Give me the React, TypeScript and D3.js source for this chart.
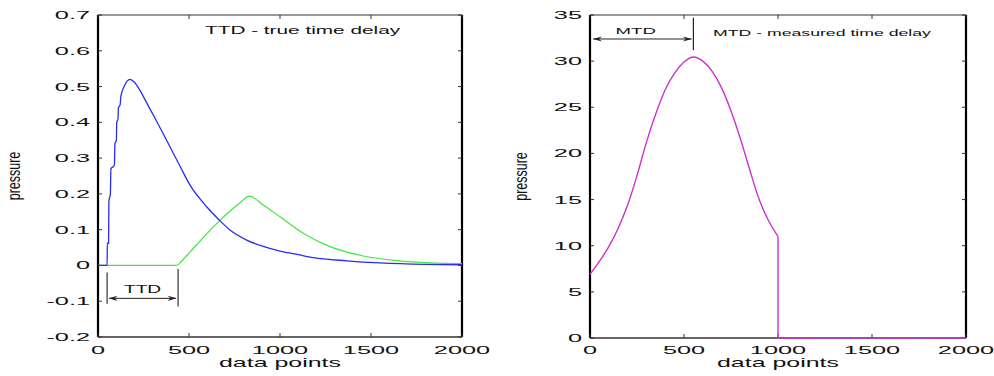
import React from 'react';
import * as d3 from 'd3';

const W = 994;
const H = 376;

// x axis shared by both panels
const xTicks = [0, 500, 1000, 1500, 2000];
const xTickLabels = ['0', '500', '1000', '1500', '2000'];

// left panel: pressure of the input pulse (blue) and delayed response (green)
const leftYTicks = [-0.2, -0.1, 0, 0.1, 0.2, 0.3, 0.4, 0.5, 0.6, 0.7];
const leftYTickLabels = ['-0.2', '-0.1', '0', '0.1', '0.2', '0.3', '0.4', '0.5', '0.6', '0.7'];

const blueX = [0, 50, 51, 58, 60, 68, 71, 90, 93, 101, 103, 110, 112, 122, 125, 135, 148, 160, 176, 200, 230, 267, 320, 377, 450, 505, 597, 666, 725, 817, 908, 1000, 1100, 1183, 1366, 1549, 1800, 2000];
const blueY = [0, 0, 0.062, 0.062, 0.18, 0.2, 0.27, 0.28, 0.34, 0.35, 0.4, 0.41, 0.44, 0.45, 0.47, 0.49, 0.505, 0.515, 0.52, 0.512, 0.49, 0.455, 0.405, 0.35, 0.278, 0.225, 0.164, 0.127, 0.099, 0.071, 0.053, 0.04, 0.03, 0.022, 0.013, 0.007, 0.003, 0.002];

const greenX = [0, 425, 440, 450, 505, 560, 634, 666, 725, 780, 831, 908, 1000, 1128, 1275, 1458, 1641, 1824, 2000];
const greenY = [0, 0, 0.002, 0.007, 0.037, 0.068, 0.108, 0.124, 0.152, 0.175, 0.194, 0.169, 0.136, 0.09, 0.0525, 0.0265, 0.0134, 0.007, 0.005];

// right panel: measured pressure (magenta), smooth pulse then cut to zero at 1000
const rightYTicks = [0, 5, 10, 15, 20, 25, 30, 35];
const rightYTickLabels = ['0', '5', '10', '15', '20', '25', '30', '35'];

const magentaX = [0, 50, 100, 150, 200, 250, 300, 350, 400, 450, 500, 550, 600, 650, 700, 750, 800, 850, 900, 950, 1000];
const magentaY = [6.9, 8.3, 9.9, 11.9, 14.4, 17.6, 21.2, 24.3, 26.9, 28.7, 29.9, 30.45, 30.0, 28.9, 27.1, 24.6, 21.6, 18.2, 15.0, 12.7, 11.0];
const magentaTailX = [1000, 1000, 2000];
const magentaTailY = [11.0, 0, 0];

// annotation extents (in data units)
const ttdFrom = 50;
const ttdTo = 440;
const mtdFrom = 0;
const mtdTo = 550;

const FONT = "'Liberation Sans', Arial, Helvetica, sans-serif";

type STextProps = {
  x: number;
  y: number;
  sx: number;
  size: number;
  anchor?: 'start' | 'middle' | 'end';
  rotate?: boolean;
  children: React.ReactNode;
};

function SText({ x, y, sx, size, anchor = 'start', rotate = false, children }: STextProps) {
  return (
    <text
      transform={`translate(${x},${y}) scale(${sx},1)${rotate ? ' rotate(-90)' : ''}`}
      textAnchor={anchor}
      fontSize={size}
      fontFamily={FONT}
      fill="#111"
    >
      {children}
    </text>
  );
}

type Scale = d3.ScaleLinear<number, number>;

type PanelProps = {
  left: number;
  right: number;
  top: number;
  bottom: number;
  yDomain: [number, number];
  yTicks: number[];
  yTickLabels: string[];
  yLabelX: number;
  children: (x: Scale, y: Scale) => React.ReactNode;
};

function Panel({ left, right, top, bottom, yDomain, yTicks, yTickLabels, yLabelX, children }: PanelProps) {
  const x = d3.scaleLinear().domain([0, 2000]).range([left, right]);
  const y = d3.scaleLinear().domain(yDomain).range([bottom, top]);
  const tl = 4;
  return (
    <g>
      {/* frame */}
      <line x1={left} x2={right} y1={top} y2={top} stroke="#333" strokeWidth={1} />
      <line x1={left} x2={right} y1={bottom} y2={bottom} stroke="#333" strokeWidth={1.5} />
      <line x1={left} x2={left} y1={top} y2={bottom} stroke="#000" strokeWidth={2.2} />
      <line x1={right} x2={right} y1={top} y2={bottom} stroke="#000" strokeWidth={2.2} />
      {/* y ticks */}
      {yTicks.map((t, i) => (
        <g key={`y${i}`}>
          <line x1={left} x2={left + tl} y1={y(t)} y2={y(t)} stroke="#333" strokeWidth={1} />
          <line x1={right - tl} x2={right} y1={y(t)} y2={y(t)} stroke="#333" strokeWidth={1} />
          <SText x={left - 8} y={y(t) + 4} sx={2.3} size={11} anchor="end">
            {yTickLabels[i]}
          </SText>
        </g>
      ))}
      {/* x ticks */}
      {xTicks.map((t, i) => (
        <g key={`x${i}`}>
          <line x1={x(t)} x2={x(t)} y1={bottom} y2={bottom - tl} stroke="#333" strokeWidth={1} />
          <line x1={x(t)} x2={x(t)} y1={top} y2={top + tl} stroke="#333" strokeWidth={1} />
          <SText x={x(t)} y={354} sx={2.3} size={11} anchor="middle">
            {xTickLabels[i]}
          </SText>
        </g>
      ))}
      <SText x={(left + right) / 2} y={367} sx={1.92} size={13} anchor="middle">
        data points
      </SText>
      <SText x={yLabelX} y={(top + bottom) / 2} sx={1.4} size={12.5} anchor="middle" rotate>
        pressure
      </SText>
      {children(x, y)}
    </g>
  );
}

function series(xs: number[], ys: number[]): [number, number][] {
  return xs.map((v, i) => [v, ys[i]] as [number, number]);
}

function arrowHead(px: number, py: number, dir: 1 | -1) {
  // dir = 1 points left (tip at px), dir = -1 points right
  const L = 9;
  const w = 2.6;
  return `M${px},${py} L${px + dir * L},${py - w} L${px + dir * (L - 3)},${py} L${px + dir * L},${py + w} Z`;
}

export default function App() {
  return (
    <svg
      width={W}
      height={H}
      viewBox={`0 0 ${W} ${H}`}
      style={{ position: 'absolute', left: 0, top: 0, background: '#fff' }}
    >
      <rect x={0} y={0} width={W} height={H} fill="#fff" />
      <Panel
        left={98}
        right={462}
        top={15}
        bottom={337}
        yDomain={[-0.2, 0.7]}
        yTicks={leftYTicks}
        yTickLabels={leftYTickLabels}
        yLabelX={20}
      >
        {(x, y) => {
          const line = d3
            .line<[number, number]>()
            .x((d) => x(d[0]))
            .y((d) => y(d[1]))
            .curve(d3.curveMonotoneX);
          const a = x(ttdFrom);
          const b = x(ttdTo);
          const ay = y(-0.092);
          return (
            <g>
              <path d={line(series(greenX, greenY)) || ''} fill="none" stroke="#3ee83e" strokeWidth={1.2} />
              <path d={line(series(blueX, blueY)) || ''} fill="none" stroke="#2b2bf5" strokeWidth={1.3} />
              <line x1={a} x2={a} y1={y(-0.02)} y2={y(-0.107)} stroke="#333" strokeWidth={1.2} />
              <line x1={b} x2={b} y1={y(-0.01)} y2={y(-0.115)} stroke="#333" strokeWidth={1.2} />
              <line x1={a + 2} x2={b - 2} y1={ay} y2={ay} stroke="#222" strokeWidth={1} />
              <path d={arrowHead(a + 1.5, ay, 1)} fill="#222" />
              <path d={arrowHead(b - 1.5, ay, -1)} fill="#222" />
              <SText x={(a + b) / 2} y={ay - 5} sx={1.92} size={10} anchor="middle">
                TTD
              </SText>
              <SText x={205} y={34.3} sx={2.08} size={10}>
                TTD - true time delay
              </SText>
            </g>
          );
        }}
      </Panel>
      <Panel
        left={590}
        right={966}
        top={15}
        bottom={338}
        yDomain={[0, 35]}
        yTicks={rightYTicks}
        yTickLabels={rightYTickLabels}
        yLabelX={527}
      >
        {(x, y) => {
          const smooth = d3
            .line<[number, number]>()
            .x((d) => x(d[0]))
            .y((d) => y(d[1]))
            .curve(d3.curveMonotoneX);
          const straight = d3
            .line<[number, number]>()
            .x((d) => x(d[0]))
            .y((d) => y(d[1]));
          const a = x(mtdFrom);
          const b = x(mtdTo);
          const ay = y(32.4);
          return (
            <g>
              <path d={smooth(series(magentaX, magentaY)) || ''} fill="none" stroke="#cc33cc" strokeWidth={1.4} />
              <path d={straight(series(magentaTailX, magentaTailY)) || ''} fill="none" stroke="#cc33cc" strokeWidth={1.4} />
              <line x1={b} x2={b} y1={y(34.7)} y2={y(31.2)} stroke="#222" strokeWidth={1.2} />
              <line x1={a + 3} x2={b - 2} y1={ay} y2={ay} stroke="#222" strokeWidth={1} />
              <path d={arrowHead(a + 3, ay, 1)} fill="#222" />
              <path d={arrowHead(b - 1.5, ay, -1)} fill="#222" />
              <SText x={(a + b) / 2 - 6} y={ay - 5} sx={2.17} size={8.6} anchor="middle">
                MTD
              </SText>
              <SText x={713} y={35.7} sx={2.08} size={8.5}>
                MTD - measured time delay
              </SText>
            </g>
          );
        }}
      </Panel>
    </svg>
  );
}
